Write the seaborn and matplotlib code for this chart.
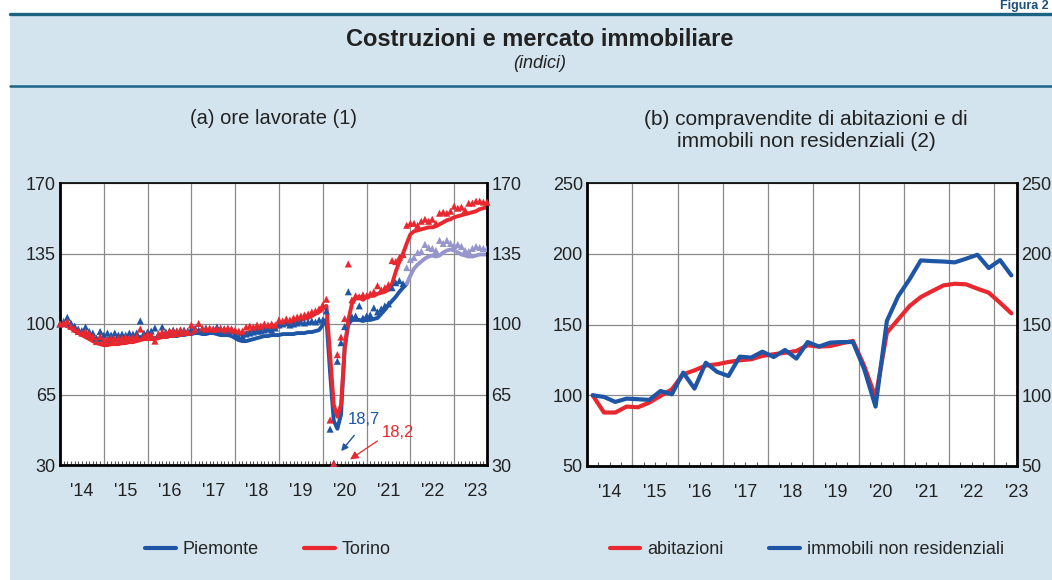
import numpy as np
import pandas as pd
import matplotlib
matplotlib.use('Agg')
import matplotlib.pyplot as plt
from matplotlib.patches import Rectangle
from matplotlib.lines import Line2D
import seaborn as sns

# ---- dati ----
# pannello (a): ore lavorate, mensile gen 2014 - ott 2023
piemonte_linea = [
    100, 99.5, 99, 98, 97, 96, 95, 94.5, 94, 93, 92.5, 92,
    91.5, 91.5, 91.5, 92, 92, 92, 92.5, 92.5, 92.5, 93, 93.5, 93.5,
    93.5, 93, 93, 93.5, 93.5, 93.5, 94, 94, 94, 94.5, 94.5, 95,
    95, 95.5, 95.5, 95, 95, 95.5, 95.5, 95, 94.5, 94.5, 94.5, 94,
    93, 92, 91.5, 91.5, 92, 92.5, 93, 93.5, 94, 94, 94.5, 94.5,
    94.5, 95, 95, 95, 95, 95.5, 95.5, 95.5, 96, 96, 96.5, 97,
    99.5, 102.5, 76, 52, 48, 55, 88, 100, 102, 102, 102, 101.5,
    102, 102, 102.5, 103, 105, 107, 109.5, 111.5, 113.5, 116, 118, 120,
    124, 127.5, 129.5, 131, 132.5, 133.5, 134, 133.5, 134, 135.5, 136.5, 137,
    136.5, 135.5, 134.5, 134, 133.5, 133.5, 134, 134.5, 134.5, 134.5]
piemonte_mese = [
    100, 101.3, 103.3, 100.5, 99, 97.5, 96.7, 98.5, 96.3, 95.5, 93, 96.3,
    94.5, 95.5, 94.5, 95.5, 94.5, 95, 94.5, 95.5, 95, 95.5, 101.5, 95.5,
    96, 96.5, 98, 95, 98.5, 96, 96.5, 97, 96.5, 97, 97, 96.5,
    97.5, 98, 97, 97.5, 98, 97, 97.5, 98.5, 97, 97.5, 97, 97.5,
    95, 93.5, 94, 95, 95.5, 96, 96.5, 96.5, 97, 97.5, 97, 98,
    99.5, 100, 100.5, 99.5, 100, 100.5, 101, 100.5, 101, 101.5, 101, 102,
    102, 106.5, 47.8, 18.7, 81.5, 90.7, 98.7, 116, 103.5, 104, 109, 103,
    104, 104.5, 108, 106, 107.5, 109, 110, 118, 120.5, 121.5, 120, 128,
    132, 133, 135.5, 136, 139.5, 138, 137.5, 136.5, 141.5, 140, 141.5, 140,
    139, 139.5, 138.5, 136.5, 136, 137.5, 138.5, 138, 137.5, 137.5]
torino_linea = [
    100, 99.5, 99, 98, 96.5, 95.5, 94.5, 93.5, 92.5, 91.5, 90.5, 90,
    89.5, 89.5, 90, 90, 90, 90.5, 90.5, 91, 91, 91.5, 92, 92.5,
    92.5, 92.5, 92.5, 93, 93.5, 93.5, 94, 94, 94.5, 94.5, 95, 95,
    95.5, 96, 96.5, 96.5, 96.5, 96.5, 96.5, 96.5, 96.5, 96, 96, 96,
    95.5, 95, 95, 95.5, 96, 96.5, 97, 97.5, 98, 98, 98.5, 99,
    99.5, 99.5, 100, 100.5, 101, 101.5, 102, 102.5, 103, 104, 105, 106,
    107.5, 109, 85, 60, 54, 60, 88, 102, 110, 113, 113.5, 112,
    113.5, 114, 114, 115, 115.5, 116, 117, 120, 126, 131, 135, 140,
    144.5, 146, 146.5, 147, 147.5, 148, 148, 148.5, 149.5, 150.5, 151.5, 152,
    153, 153.5, 154, 154.5, 155, 155.5, 156, 157, 157.5, 158]
torino_mese = [
    100, 100.5, 101.3, 98.8, 97.5, 96.3, 95.5, 96.3, 95.2, 93.8, 91.3, 93.8,
    92, 92.5, 93, 92.5, 93, 93, 93.5, 93, 93.5, 94, 97.5, 94,
    95, 94.5, 91.5, 95, 96, 95.5, 96.5, 96.5, 96.5, 97, 96.5, 96,
    99.5, 97.5, 100.3, 98, 97.5, 98, 97.5, 97.5, 98, 97.5, 98, 97.5,
    97, 96.5, 96.5, 98.5, 99, 98.5, 99.5, 99, 100, 99.5, 100, 99.5,
    102, 101.5, 102.5, 102, 103, 103.5, 104, 104.5, 105, 106, 106.5, 107.5,
    109.5, 112.3, 52.3, 18.2, 84.8, 93.5, 102.7, 129.8, 112, 114, 113.5, 114.5,
    114, 115, 116, 119, 117, 118, 119.5, 131.5, 131, 133, 134.5, 149,
    150, 150, 149, 151, 152, 151, 152, 150, 155, 155.5, 155, 156,
    158.5, 157.5, 158, 156.5, 160, 160, 161, 161, 160.5, 160.5]
inizio_provvisorio = 95   # da dic. 2021 i dati del Piemonte sono in colore chiaro

# pannello (b): compravendite, trimestrale 2014T1 - 2023T2
abitazioni = [
    100, 87.8, 87.8, 92, 91.5, 94.8, 99.5, 104.2, 114.8, 117.6, 121, 121.9,
    123.5, 124.7, 125.4, 127.8, 129, 130, 131.3, 135.3, 134.4, 134.8, 136.7, 138.4,
    120.7, 98.5, 144.2, 153.6, 163, 169.4, 173.6, 177.6, 178.8, 178.4, 175.3, 172.5,
    165.4, 157.9]
non_residenziali = [
    100, 98.8, 95.3, 97.6, 97.2, 96.7, 103, 100.7, 116, 104.7, 123, 116.5,
    113.6, 127.3, 126.6, 130.8, 127, 132, 125.9, 137.6, 134.4, 137.2, 137.6, 137.6,
    118.4, 92, 152.5, 170, 181.9, 195.3, 194.8, 194.5, 193.9, 196.5, 199.3, 189.9,
    195.5, 184.7]

anni = list(range(2014, 2024))
etichette_anni = ["'14", "'15", "'16", "'17", "'18", "'19", "'20", "'21", "'22", "'23"]

BLU = '#1f55a5'
ROSSO = '#e8282e'
LILLA = '#9696cd'
SFONDO = '#d3e4ee'
TEAL = '#1b6385'

sns.set_theme(style='white')
plt.rcParams['font.family'] = ['Liberation Sans', 'DejaVu Sans']

mesi = 2014 + np.arange(len(piemonte_linea)) / 12
df_a = pd.DataFrame({'t': mesi, 'pie_l': piemonte_linea, 'pie_m': piemonte_mese,
                     'tor_l': torino_linea, 'tor_m': torino_mese})
trim = 2014.125 + np.arange(len(abitazioni)) * 0.25
df_b = pd.DataFrame({'t': trim, 'abit': abitazioni, 'nonres': non_residenziali})

fig = plt.figure(figsize=(10.52, 5.8), dpi=100)
fig.patch.set_facecolor('white')
fig.add_artist(Rectangle((10 / 1052, 0), 1, 1 - 13 / 580, transform=fig.transFigure,
                         facecolor=SFONDO, edgecolor='none', zorder=-10))
fig.add_artist(Line2D([10 / 1052, 1], [1 - 13.5 / 580] * 2, transform=fig.transFigure,
                      color=TEAL, lw=2.4))
fig.add_artist(Line2D([10 / 1052, 1], [1 - 86.5 / 580] * 2, transform=fig.transFigure,
                      color=TEAL, lw=1.8))
fig.text(1049 / 1052, 1 - 0.5 / 580, 'Figura 2', fontsize=9, fontweight='bold',
         color='#1d4f7c', ha='right', va='top')
fig.text(0.513, 1 - 40 / 580, 'Costruzioni e mercato immobiliare', fontsize=17,
         fontweight='bold', ha='center', va='center', color='#222222')
fig.text(0.513, 1 - 63.5 / 580, '(indici)', fontsize=13, style='italic', ha='center',
         va='center', color='#222222')
fig.text(273 / 1052, 1 - 118 / 580, '(a) ore lavorate (1)', fontsize=14.5, ha='center',
         va='center', color='#222222')
fig.text(806 / 1052, 1 - 130.5 / 580,
         '(b) compravendite di abitazioni e di\nimmobili non residenziali (2)',
         fontsize=15, ha='center', va='center', color='#222222', linespacing=1.2)

ax1 = fig.add_axes([60 / 1052, 1 - 465 / 580, 427 / 1052, 282 / 580])
ax2 = fig.add_axes([587 / 1052, 1 - 466 / 580, 430 / 1052, 283 / 580])


def stile(ax, xlim, ylim, yticks, tacche):
    ax.set_facecolor('white')
    ax.set_xlim(*xlim)
    ax.set_ylim(*ylim)
    ax.set_yticks(yticks)
    ax.set_xticks([a + 0.5 for a in anni])
    ax.set_xticklabels(etichette_anni)
    ax.set_xticks(anni[1:], minor=True)
    ax.grid(False)
    ax.grid(which='minor', axis='x', color='#8a8a8a', lw=0.9)
    ax.grid(which='major', axis='y', color='#8a8a8a', lw=0.9)
    ax.tick_params(axis='x', which='both', length=0, pad=13, labelsize=13, colors='#222222')
    ax.tick_params(axis='y', length=0, labelsize=13, labelleft=True, labelright=True,
                   pad=3, colors='#222222')
    for lato, sp in ax.spines.items():
        sp.set_visible(True)
        sp.set_color('black')
        sp.set_linewidth(1.2 if lato == 'top' else 2.0)
    sec = ax.secondary_xaxis('bottom')
    sec.set_xticks(tacche)
    sec.tick_params(direction='in', length=3, width=0.8, color='#555555', labelbottom=False)
    for sp in sec.spines.values():
        sp.set_visible(False)
    ax.set_xlabel('')
    ax.set_ylabel('')


# ---- pannello (a) ----
k = inizio_provvisorio
def_kw = dict(estimator=None, sort=False, legend=False)
sns.lineplot(data=df_a.iloc[:k + 1], x='t', y='pie_l', color=BLU, lw=2.8, ax=ax1, **def_kw)
sns.lineplot(data=df_a.iloc[k:], x='t', y='pie_l', color=LILLA, lw=2.8, ax=ax1, **def_kw)
sns.lineplot(data=df_a, x='t', y='tor_l', color=ROSSO, lw=2.8, ax=ax1, **def_kw)
ymin_a = 30
sns.scatterplot(x=df_a['t'].iloc[:k], y=np.clip(df_a['pie_m'].iloc[:k], ymin_a + 0.8, None),
                marker='^', s=26, color=BLU, edgecolor='none', ax=ax1, clip_on=False, zorder=4)
sns.scatterplot(x=df_a['t'].iloc[k:], y=df_a['pie_m'].iloc[k:], marker='^', s=26,
                color=LILLA, edgecolor='none', ax=ax1, zorder=4)
sns.scatterplot(x=df_a['t'], y=np.clip(df_a['tor_m'], ymin_a + 0.8, None), marker='^', s=26,
                color=ROSSO, edgecolor='none', ax=ax1, clip_on=False, zorder=5)
stile(ax1, (2014, 2023.75), (30, 170), [30, 65, 100, 135, 170], mesi)

ax1.text(2020.95, 52.7, '18,7', color=BLU, fontsize=12, ha='center', va='center')
ax1.annotate('', xy=(2020.38, 35.8), xytext=(2020.76, 45.8),
             arrowprops=dict(arrowstyle='-|>', color=BLU, lw=1.0, mutation_scale=10))
ax1.text(2021.71, 46.2, '18,2', color=ROSSO, fontsize=12, ha='center', va='center')
ax1.annotate('', xy=(2020.57, 32), xytext=(2021.30, 42.7),
             arrowprops=dict(arrowstyle='-|>', color=ROSSO, lw=0.9, mutation_scale=12))

# ---- pannello (b) ----
sns.lineplot(data=df_b, x='t', y='abit', color=ROSSO, lw=3.0, ax=ax2, **def_kw)
sns.lineplot(data=df_b, x='t', y='nonres', color=BLU, lw=3.0, ax=ax2, **def_kw)
stile(ax2, (2014, 2023.5), (50, 250), [50, 100, 150, 200, 250],
      np.arange(2014.25, 2023.5, 0.25))

# ---- legende ----
leg_kw = dict(loc='center', ncol=2, frameon=False, fontsize=13, handlelength=1.7,
              handletextpad=0.4, columnspacing=2.5)
fig.legend([Line2D([], [], color=BLU, lw=3), Line2D([], [], color=ROSSO, lw=3)],
           ['Piemonte', 'Torino'], bbox_to_anchor=(268 / 1052, 1 - 550 / 580), **leg_kw)
fig.legend([Line2D([], [], color=ROSSO, lw=3), Line2D([], [], color=BLU, lw=3)],
           ['abitazioni', 'immobili non residenziali'],
           bbox_to_anchor=(807 / 1052, 1 - 550 / 580), **leg_kw)

fig.savefig('out.png', dpi=100, facecolor=fig.get_facecolor())
